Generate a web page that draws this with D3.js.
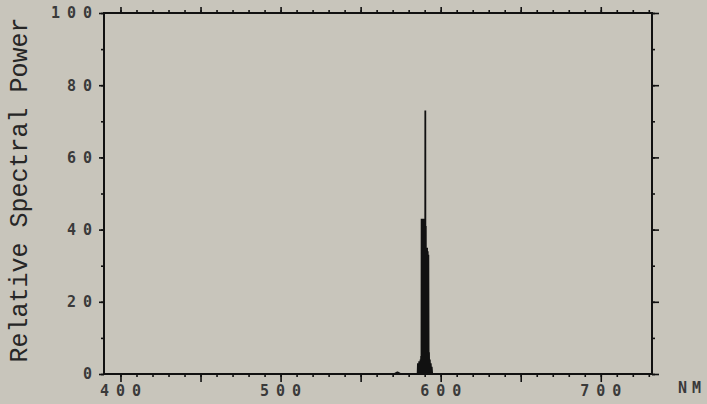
<!DOCTYPE html>
<html>
<head>
<meta charset="utf-8">
<script src="https://cdn.jsdelivr.net/npm/d3@7"></script>
<style>
    html, body { margin: 0; padding: 0; background: #c8c5bb; }
    svg { display: block; }
    .tick text { font-family: "DejaVu Sans Mono", monospace; font-size: 15px; font-weight: bold; fill: #3a3a3a; letter-spacing: 7px; }
    .tick line { stroke: #111; stroke-width: 1.6; }
    .domain { display: none; }
</style>
</head>
<body>
<div id="chart"></div>
<script>
// spectrum (nm, relative power) - the sodium line cluster around 589 nm
const wavelengths = [390, 560, 571, 573, 575, 585.6, 585.8, 586.0, 586.2, 586.4,
    586.6, 586.8, 587.0, 587.2, 587.4, 587.6, 587.8, 588.0, 588.1, 588.3, 588.5, 588.7, 588.9, 589.1,
    589.3, 589.5, 589.7, 589.9, 590.1, 590.3, 590.4, 590.5, 590.7, 590.9, 591.1, 591.3, 591.5, 591.7,
    591.9, 592.1, 592.3, 592.5, 592.7, 592.9, 593.2, 593.5, 593.8, 594.1, 594.4, 594.7, 732];
const power = [0, 0, 0, 0.5, 0, 0, 3, 0, 3, 0,
    3.5, 0, 3, 0, 4, 0, 5, 0, 43, 0, 43, 0, 42, 0,
    43, 0, 42, 0, 40, 0, 73, 0, 41, 0, 35, 0, 35, 0,
    34, 0, 33, 0, 6, 0, 4, 0, 3, 0, 2, 0, 0];

const yTicks = [0, 20, 40, 60, 80, 100];
const xTicks = [400, 500, 600, 700];
const yTitle = 'Relative Spectral Power';
const xUnit = 'NM';

const spectrum = wavelengths.map((w, i) => ({ nm: w, p: power[i] }));

function drawChart() {
    const width = 707;
    const height = 404;
    const frame = { left: 104, right: 652, top: 13, bottom: 374 };

    const svg = d3.select('#chart')
        .append('svg')
        .attr('width', width)
        .attr('height', height);

    svg.append('rect')
        .attr('width', width)
        .attr('height', height)
        .attr('fill', '#c8c5bb');

    const xScale = d3.scaleLinear()
        .domain([389.7, 732])
        .range([frame.left, frame.right]);

    const yScale = d3.scaleLinear()
        .domain([0, 100])
        .range([frame.bottom, frame.top]);

    const minorX = d3.range(400, 731, 10);
    const majorX = d3.range(400, 731, 50);
    const minorY = d3.range(0, 101, 10);

    // bottom axis: small ticks every 10 nm, long ones every 50, labels on the hundreds
    svg.append('g')
        .attr('transform', `translate(0, ${frame.bottom})`)
        .call(d3.axisBottom(xScale).tickValues(minorX).tickSize(3).tickFormat(''));
    svg.append('g')
        .attr('transform', `translate(0, ${frame.bottom})`)
        .call(d3.axisBottom(xScale).tickValues(majorX).tickSize(8).tickPadding(3)
            .tickFormat((d) => xTicks.includes(d) ? String(d) : ''))
        .selectAll('text')
        .attr('dx', '3');

    // top axis
    svg.append('g')
        .attr('transform', `translate(0, ${frame.top})`)
        .call(d3.axisTop(xScale).tickValues(minorX).tickSize(3).tickFormat(''));
    svg.append('g')
        .attr('transform', `translate(0, ${frame.top})`)
        .call(d3.axisTop(xScale).tickValues(majorX).tickSize(6).tickFormat(''));

    // left axis
    svg.append('g')
        .attr('transform', `translate(${frame.left}, 0)`)
        .call(d3.axisLeft(yScale).tickValues(minorY).tickSize(3).tickFormat(''));
    svg.append('g')
        .attr('transform', `translate(${frame.left}, 0)`)
        .call(d3.axisLeft(yScale).tickValues(yTicks).tickSize(5).tickPadding(0));

    // right axis
    svg.append('g')
        .attr('transform', `translate(${frame.right}, 0)`)
        .call(d3.axisRight(yScale).tickValues(minorY).tickSize(3).tickFormat(''));
    svg.append('g')
        .attr('transform', `translate(${frame.right}, 0)`)
        .call(d3.axisRight(yScale).tickValues(yTicks).tickSize(7).tickFormat(''));

    // plot frame
    svg.append('rect')
        .attr('x', frame.left)
        .attr('y', frame.top)
        .attr('width', frame.right - frame.left)
        .attr('height', frame.bottom - frame.top)
        .attr('fill', 'none')
        .attr('stroke', '#111')
        .attr('stroke-width', 2);

    // the spectrum
    const line = d3.line()
        .x((d) => xScale(d.nm))
        .y((d) => yScale(d.p));

    svg.append('path')
        .datum(spectrum)
        .attr('d', line)
        .attr('fill', 'none')
        .attr('stroke', '#111')
        .attr('stroke-width', 1.8)
        .attr('stroke-linejoin', 'bevel');

    // unit label and y title
    svg.append('text')
        .attr('x', 692)
        .attr('y', 393)
        .attr('text-anchor', 'middle')
        .style('font-family', '"DejaVu Sans Mono", monospace')
        .style('font-size', '15px')
        .style('font-weight', 'bold')
        .style('letter-spacing', '5px')
        .attr('fill', '#3a3a3a')
        .text(xUnit);

    svg.append('text')
        .attr('transform', 'translate(27, 190) rotate(-90)')
        .attr('text-anchor', 'middle')
        .style('font-family', '"Liberation Mono", monospace')
        .style('font-size', '25px')
        .attr('fill', '#262626')
        .text(yTitle);
}

drawChart();
</script>
</body>
</html>
